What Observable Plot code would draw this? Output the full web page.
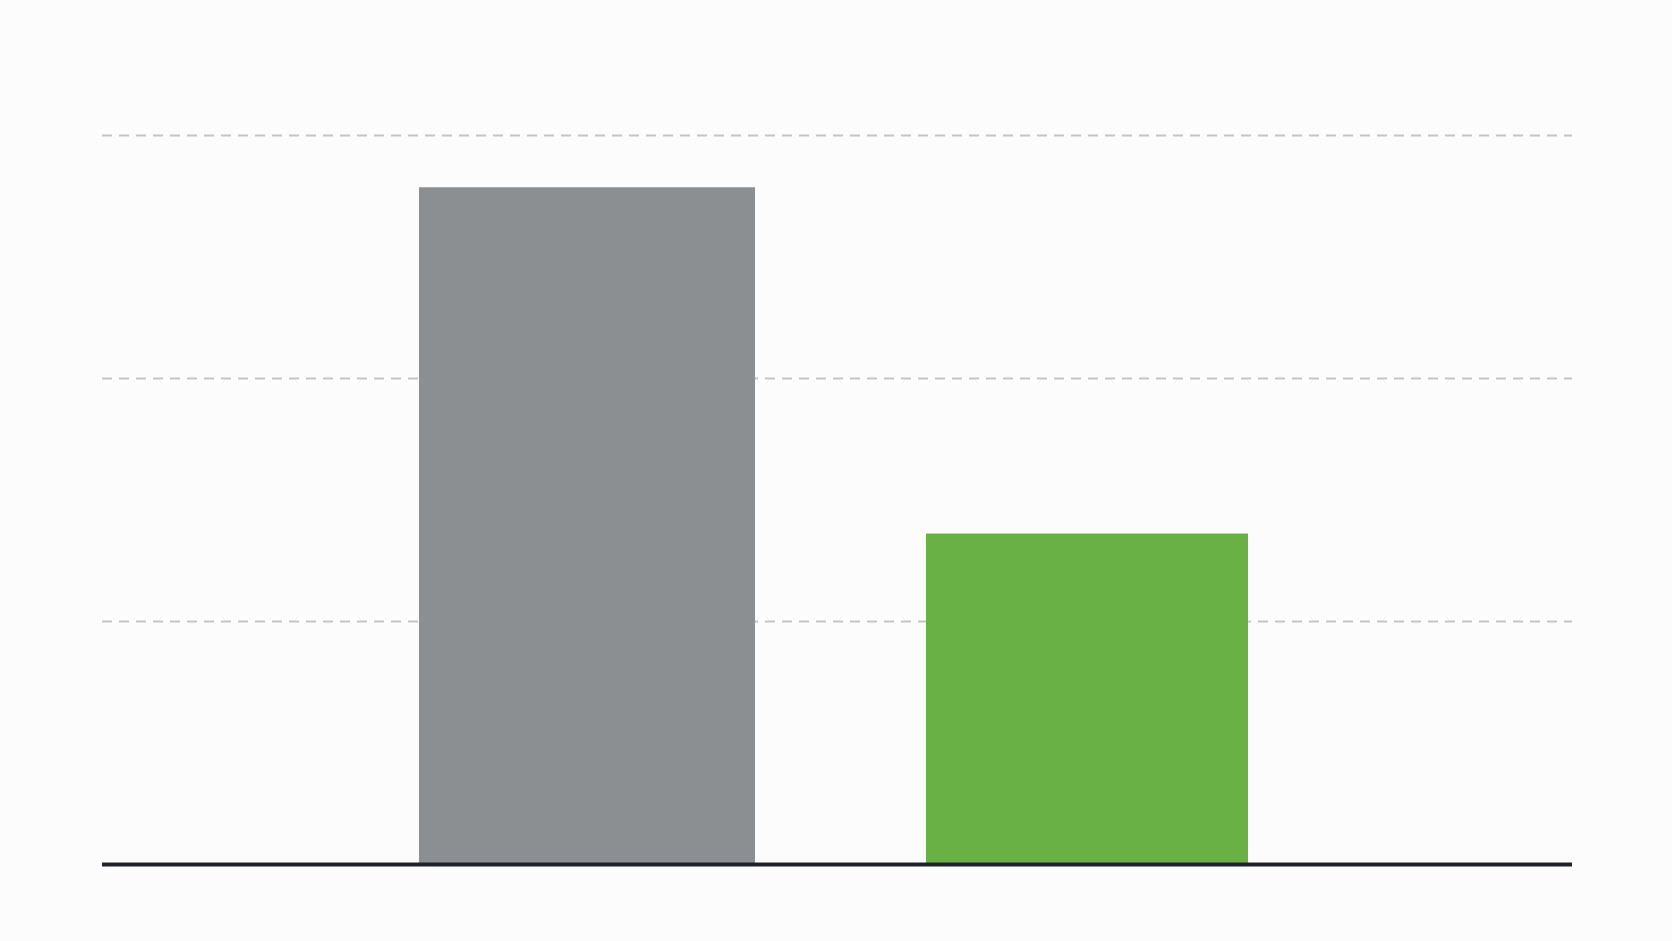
<!DOCTYPE html>
<html>
<head>
<meta charset="utf-8">
<script src="https://cdn.jsdelivr.net/npm/d3@7"></script>
<script src="https://cdn.jsdelivr.net/npm/@observablehq/plot@0.6"></script>
<style>
  html, body { margin: 0; padding: 0; background: #fcfcfc; }
  #chart svg { display: block; background: #fcfcfc; }
</style>
</head>
<body>
<div id="chart"></div>
<script>
const categories = ["A", "B"];
const values = [27.85, 13.6];
const barColors = ["#8b8f92", "#69b045"];
const gridTicks = [10, 20, 30];

const data = categories.map((c, i) => ({category: c, value: values[i], color: barColors[i]}));

const chart = Plot.plot({
  width: 1672,
  height: 941,
  marginLeft: 102,
  marginRight: 100,
  marginTop: 135,
  marginBottom: 77,
  style: {background: "#fcfcfc"},
  x: {domain: categories, paddingInner: 0.329, paddingOuter: 0.6325, axis: null},
  y: {domain: [0, 30], axis: null},
  marks: [
    Plot.ruleY(gridTicks, {stroke: "#c4c4c4", strokeWidth: 2, strokeDasharray: "10,7"}),
    Plot.barY(data.slice(0, 1), {x: "category", y: "value", fill: "color"}),
    Plot.barY(data.slice(1, 2), {x: "category", y: "value", fill: "color", insetLeft: 7, insetRight: 7}),
    Plot.ruleY([0], {stroke: "#1e222b", strokeWidth: 4})
  ]
});
document.getElementById("chart").appendChild(chart);
</script>
</body>
</html>
